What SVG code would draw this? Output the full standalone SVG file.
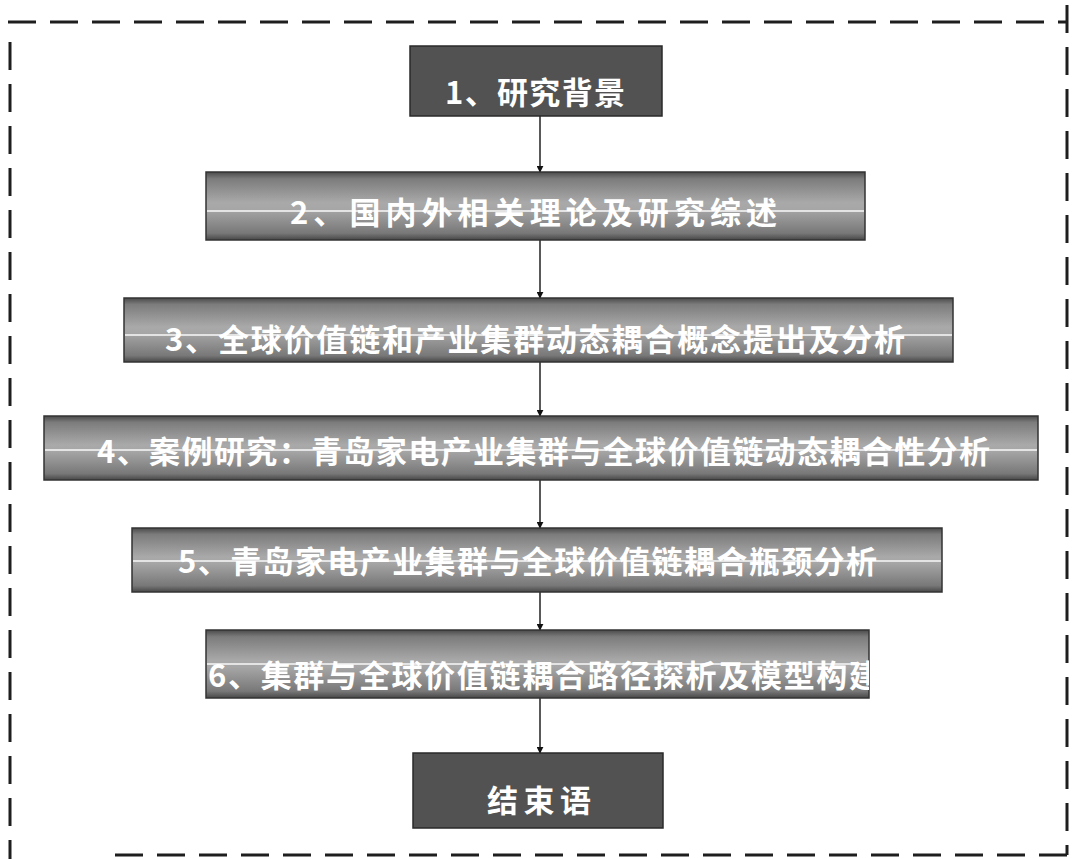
<svg xmlns="http://www.w3.org/2000/svg" width="1085" height="859" viewBox="0 0 1085 859">
  <defs>
    <linearGradient id="bar" x1="0" y1="0" x2="0" y2="1">
      <stop offset="0" stop-color="#4a4a4a"/>
      <stop offset="0.1" stop-color="#7c7c7c"/>
      <stop offset="0.45" stop-color="#a9a9a9"/>
      <stop offset="0.55" stop-color="#a6a6a6"/>
      <stop offset="0.9" stop-color="#787878"/>
      <stop offset="1" stop-color="#474747"/>
    </linearGradient>
    <marker id="arr" viewBox="0 0 10 10" refX="9" refY="5" markerWidth="7" markerHeight="7" orient="auto" markerUnits="userSpaceOnUse">
      <path d="M0,0 L10,5 L0,10 Z" fill="#111"/>
    </marker>
    <clipPath id="clip6"><rect x="206" y="630" width="663" height="68"/></clipPath>
  </defs>
  <style>
    .dark { fill: #525252; stroke: #2a2a2a; stroke-width: 1.5; }
    .bar { fill: url(#bar); stroke: #333; stroke-width: 1.5; }
    .hl { stroke: #f4f4f4; stroke-width: 2; opacity: 0.8; }
    .t { font-family: "Noto Sans CJK SC", "Liberation Sans", sans-serif; font-weight: bold; font-size: 31px; fill: #ffffff; text-anchor: start; }
    .conn { stroke: #222; stroke-width: 1.5; fill: none; }
    .border { stroke: #1e1e1e; stroke-width: 3; fill: none; stroke-dasharray: 28 14; }
  </style>
  <rect width="1085" height="859" fill="#ffffff"/>

  <g id="border">
    <line class="border" x1="8" y1="22" x2="1066" y2="22"/>
    <line class="border" x1="1067" y1="5" x2="1067" y2="855"/>
    <line class="border" x1="10" y1="42" x2="10" y2="859"/>
    <line class="border" x1="115" y1="855" x2="1067" y2="855"/>
  </g>

  <g id="connectors">
    <line class="conn" x1="540" y1="116" x2="540" y2="172" marker-end="url(#arr)"/>
    <line class="conn" x1="540" y1="240" x2="540" y2="298" marker-end="url(#arr)"/>
    <line class="conn" x1="540" y1="362" x2="540" y2="416" marker-end="url(#arr)"/>
    <line class="conn" x1="540" y1="480" x2="540" y2="528" marker-end="url(#arr)"/>
    <line class="conn" x1="540" y1="592" x2="540" y2="630" marker-end="url(#arr)"/>
    <line class="conn" x1="540" y1="698" x2="540" y2="753" marker-end="url(#arr)"/>
  </g>

  <g id="node1">
    <rect class="dark" x="410" y="46" width="252" height="70"/>
    <text class="t" x="445" y="104" textLength="180" lengthAdjust="spacing">1、研究背景</text>
  </g>

  <g id="node2">
    <rect class="bar" x="206" y="172" width="659" height="68"/>
    <line class="hl" x1="207" y1="211" x2="864" y2="211"/>
    <text class="t" x="290" y="224" textLength="487" lengthAdjust="spacing">2、国内外相关理论及研究综述</text>
  </g>

  <g id="node3">
    <rect class="bar" x="124" y="298" width="829" height="64"/>
    <line class="hl" x1="125" y1="335" x2="952" y2="335"/>
    <text class="t" x="165" y="351" textLength="740" lengthAdjust="spacing">3、全球价值链和产业集群动态耦合概念提出及分析</text>
  </g>

  <g id="node4">
    <rect class="bar" x="44" y="416" width="994" height="64"/>
    <line class="hl" x1="45" y1="450" x2="1037" y2="450"/>
    <text class="t" x="97" y="463" textLength="893" lengthAdjust="spacing">4、案例研究：青岛家电产业集群与全球价值链动态耦合性分析</text>
  </g>

  <g id="node5">
    <rect class="bar" x="132" y="528" width="810" height="64"/>
    <line class="hl" x1="133" y1="561" x2="941" y2="561"/>
    <text class="t" x="178" y="573" textLength="699" lengthAdjust="spacing">5、青岛家电产业集群与全球价值链耦合瓶颈分析</text>
  </g>

  <g id="node6">
    <rect class="bar" x="206" y="630" width="663" height="68"/>
    <line class="hl" x1="207" y1="664" x2="868" y2="664"/>
    <text class="t" x="208" y="687" textLength="672" lengthAdjust="spacing" clip-path="url(#clip6)">6、集群与全球价值链耦合路径探析及模型构建</text>
  </g>

  <g id="node7">
    <rect class="dark" x="413" y="753" width="250" height="75"/>
    <text class="t" x="487" y="812" textLength="104" lengthAdjust="spacing">结束语</text>
  </g>
</svg>
